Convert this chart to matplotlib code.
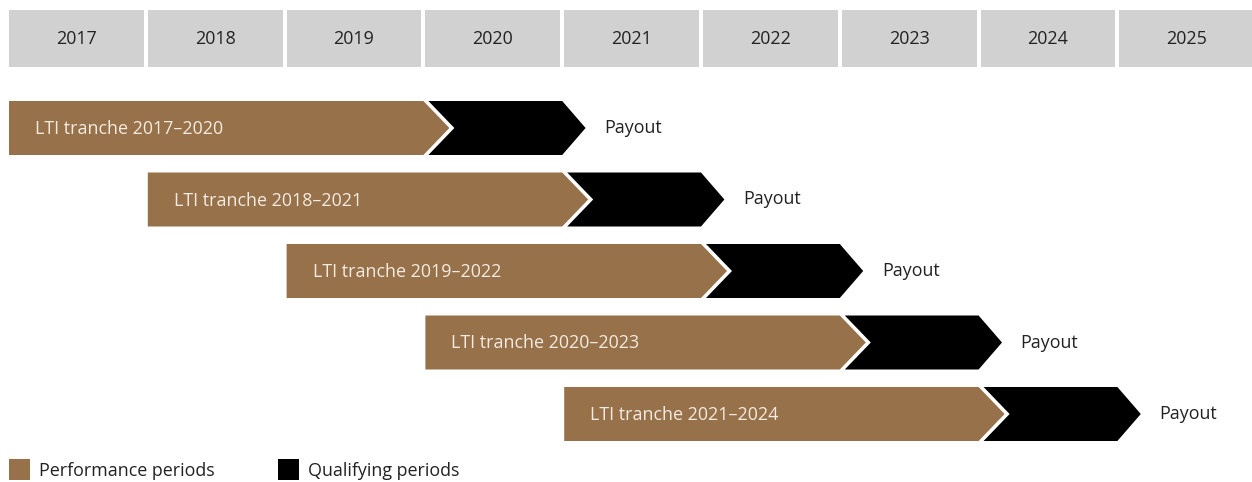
import matplotlib
matplotlib.use("Agg")
import matplotlib.pyplot as plt
from matplotlib.patches import Polygon, Rectangle

# ---- data ----
years = [2017, 2018, 2019, 2020, 2021, 2022, 2023, 2024, 2025]
tranche_start = [2017, 2018, 2019, 2020, 2021]
performance_years = [3, 3, 3, 3, 3]
qualifying_years = [1, 1, 1, 1, 1]
tranche_labels = ["LTI tranche 2017\u20132020", "LTI tranche 2018\u20132021",
                  "LTI tranche 2019\u20132022", "LTI tranche 2020\u20132023",
                  "LTI tranche 2021\u20132024"]
payout_label = "Payout"
legend_labels = ["Performance periods", "Qualifying periods"]

# ---- style ----
BROWN = "#977149"
BLACK = "#000000"
GRAY = "#d1d1d1"
TEXT = "#222222"
LABEL = "#f3ebe1"
FONT = ["Open Sans", "DejaVu Sans"]
FS = 12.9

W, H = 1252, 482
PX_YEAR = 138.8           # pixels per year
X0 = 9                    # pixel of 2017 start
ROW_PX = 71.5             # row spacing in pixels
ROW0 = 128                # pixel centre of first row

fig = plt.figure(figsize=(W / 100, H / 100), dpi=100)
ax = fig.add_axes([0, 0, 1, 1])
x_min = years[0] - X0 / PX_YEAR
x_max = years[0] + (W - X0) / PX_YEAR
y_top = -ROW0 / ROW_PX
y_bot = (H - ROW0) / ROW_PX
ax.set_xlim(x_min, x_max)
ax.set_ylim(y_bot, y_top)
ax.axis("off")

px = 1.0 / PX_YEAR  # one pixel in x data units
py = 1.0 / ROW_PX   # one pixel in y data units

# year header boxes
hdr_top, hdr_bot = (10 - ROW0) * py, (67 - ROW0) * py
for yr in years:
    ax.add_patch(Rectangle((yr, hdr_top), 1 - 4 * px, hdr_bot - hdr_top,
                           facecolor=GRAY, edgecolor="none"))
    ax.text(yr + 0.5 - 2 * px, (hdr_top + hdr_bot) / 2 + 1 * py, str(yr),
            ha="center", va="center", fontsize=FS, color=TEXT, family=FONT)

half = 27 * py
depth = 26 * px

for i, (s, p, q, lab) in enumerate(zip(tranche_start, performance_years,
                                        qualifying_years, tranche_labels)):
    yc = i
    e1 = s + p - 2 * px
    brown = [(s, yc - half), (e1, yc - half), (e1 + depth, yc),
             (e1, yc + half), (s, yc + half)]
    ax.add_patch(Polygon(brown, closed=True, facecolor=BROWN, edgecolor="none"))
    b0 = s + p + 3 * px
    b1 = s + p + q - 2 * px
    black = [(b0, yc - half), (b1, yc - half), (b1 + depth * 0.9, yc),
             (b1, yc + half), (b0, yc + half), (b0 + depth, yc)]
    ax.add_patch(Polygon(black, closed=True, facecolor=BLACK, edgecolor="none"))
    ax.text(s + 26 * px, yc + 1 * py, lab, ha="left", va="center",
            fontsize=FS, color=LABEL, family=FONT)
    ax.text(b1 + depth + 16 * px, yc, payout_label, ha="left",
            va="center", fontsize=FS, color=TEXT, family=FONT)

# legend
leg_top = (459 - ROW0) * py
leg_h = 21 * py
leg_x = [years[0], years[0] + (278 - X0) * px]
for lx, col, lab in zip(leg_x, [BROWN, BLACK], legend_labels):
    ax.add_patch(Rectangle((lx, leg_top), 21 * px, leg_h,
                           facecolor=col, edgecolor="none"))
    ax.text(lx + 30 * px, leg_top + leg_h / 2 + 1 * py, lab, ha="left",
            va="center", fontsize=FS, color=TEXT, family=FONT)

fig.savefig("out.png", dpi=100, facecolor="white")
